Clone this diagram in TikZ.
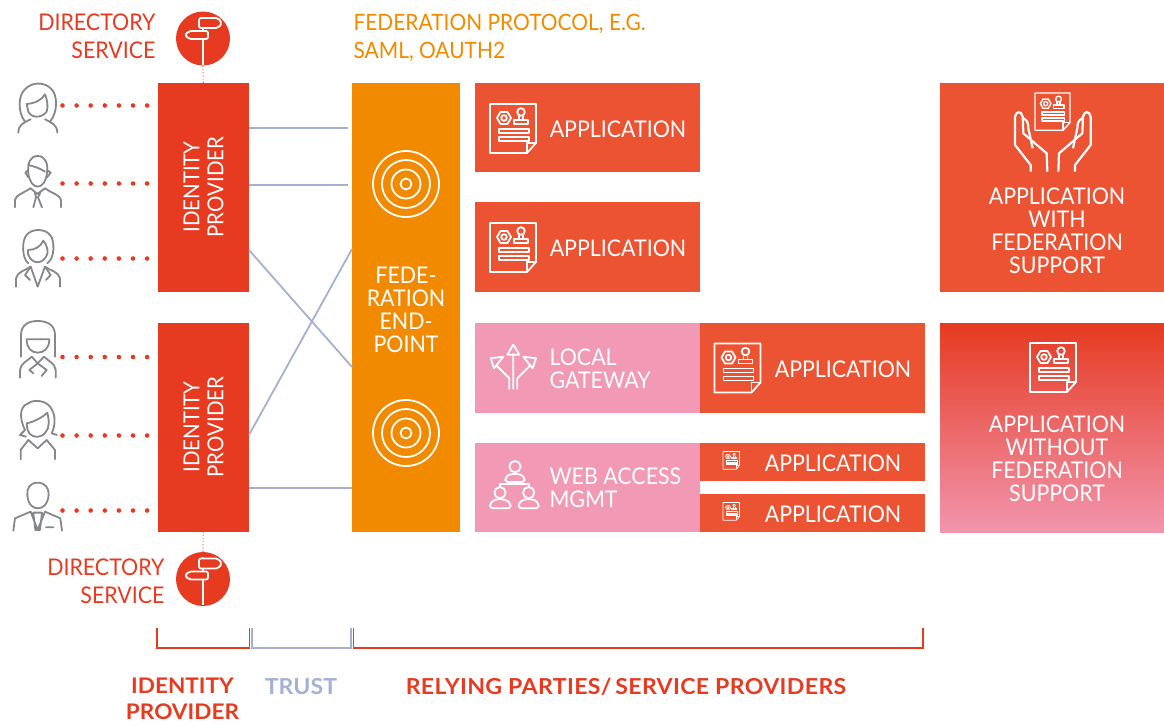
\documentclass[tikz,border=0pt]{standalone}
\usepackage{fontspec}
\setmainfont{Lato}[FakeStretch=0.93, BoldFeatures={FakeStretch=1.05}]
\definecolor{idpred}{HTML}{E63A21}
\definecolor{appred}{HTML}{EB5333}
\definecolor{fedorange}{HTML}{F28A00}
\definecolor{gwpink}{HTML}{F29AB5}
\definecolor{trustblue}{HTML}{A4B0D4}
\definecolor{usergray}{HTML}{85878A}
\newcommand{\lbl}{\fontsize{23}{23}\selectfont}
\tikzset{
  idpbox/.style = {fill=idpred, text=white, inner sep=0pt},
  appbox/.style = {fill=appred, text=white, inner sep=0pt},
  gwbox/.style = {fill=gwpink, text=white, inner sep=0pt},
  trust/.style = {trustblue, line width=1.8pt},
  userdots/.style = {idpred, line width=4.6pt, line cap=round, dash pattern=on 0pt off 14.1pt, shorten >=10pt},
  dirdots/.style = {idpred!70, line width=1.2pt, dotted},
  dirsvc/.style = {circle, fill=idpred, minimum size=54pt, inner sep=0pt},
  bracket/.style = {line width=1.5pt},
  wicon/.style = {white, line width=1.8pt, line join=round},
  uicon/.style = {usergray, line width=1.8pt, line cap=round, line join=round, x=0.3333pt, y=-0.3333pt},
  pics/appicon/.style = {code={
    \draw[wicon, line width=#1] (0,0) -- (46,0) -- (46,39) -- (37,49) -- (0,49) -- cycle;
    \draw[wicon, line width=#1] (46,39) -- (37,39) -- (37,49);
    \draw[wicon, line width=#1] (7,14) -- (10.5,8) -- (17.5,8) -- (21,14) -- (17.5,20) -- (10.5,20) -- cycle;
    \draw[wicon, line width=#1] (14,14) circle (2.8);
    \draw[wicon, line width=#1] (31,8) circle (3.8);
    \draw[wicon, line width=#1] (24,20) rectangle (38,16) (29,12) -- (29,16) (33,12) -- (33,16);
    \draw[wicon, line width=#1] (9,25) rectangle (39,29) (9,33) rectangle (39,37);
  }},
  pics/signpost/.style = {code={
    \draw[wicon] (0,-22) -- (0,26);
    \draw[wicon, fill=idpred, rounded corners=2pt] (-4,-20.5) -- (15,-20.5) -- (19,-15.5) -- (15,-10.5) -- (-4,-10.5) -- cycle;
    \draw[wicon, fill=idpred, rounded corners=2pt] (5,-7.5) -- (-14,-7.5) -- (-18,-3.5) -- (-14,0.5) -- (5,0.5) -- cycle;
  }},
  pics/target/.style = {code={
    \foreach \r in {33,24,14.5,5.5}
      \draw[wicon, line width=1.8pt] (0,0) circle (\r);
  }},
}
\begin{document}
\begin{tikzpicture}[x=1pt, y=-1pt]
  \useasboundingbox (0,0) rectangle (1164,724);

  % boxes
  \node[idpbox, minimum width=91pt, minimum height=209pt] (idp1) at (203.5,187.5) {};
  \node[idpbox, minimum width=91pt, minimum height=209pt] (idp2) at (203.5,427.5) {};
  \node[fill=fedorange, minimum width=108pt, minimum height=449pt] (fed) at (406,307.5) {};
  \node[appbox, minimum width=225pt, minimum height=89pt] (app1) at (587.5,127.5) {};
  \node[appbox, minimum width=225pt, minimum height=90pt] (app2) at (587.5,247) {};
  \node[gwbox, minimum width=225pt, minimum height=90pt] (gw) at (587.5,368) {};
  \node[appbox, minimum width=225pt, minimum height=90pt] (app3) at (812.5,368) {};
  \node[gwbox, minimum width=225pt, minimum height=89pt] (wam) at (587.5,487.5) {};
  \node[appbox, minimum width=225pt, minimum height=38pt] (app4) at (812.5,462) {};
  \node[appbox, minimum width=225pt, minimum height=38pt] (app5) at (812.5,513) {};
  \node[appbox, minimum width=224pt, minimum height=209pt] (fedapp) at (1052,187.5) {};
  \node[top color=idpred, bottom color=gwpink!95!idpred, minimum width=224pt, minimum height=209pt, inner sep=0pt] (nofedapp) at (1052,427.5) {};

  % box labels
  \node[text=white, rotate=90, align=center, font=\fontsize{22}{24}\selectfont] (idp1txt) at (203.5,187) {IDENTITY\\PROVIDER};
  \node[text=white, rotate=90, align=center, font=\fontsize{22}{24}\selectfont] (idp2txt) at (203.5,427) {IDENTITY\\PROVIDER};
  \node[text=white, align=center, font=\lbl] (fedtxt) at (406,310) {FEDE-\\RATION\\END-\\POINT};
  \node[text=white, font=\lbl] (app1txt) at (618,129) {APPLICATION};
  \node[text=white, font=\lbl] (app2txt) at (618,248) {APPLICATION};
  \node[text=white, font=\lbl] (app3txt) at (843,369) {APPLICATION};
  \node[text=white, font=\lbl] (app4txt) at (833,463) {APPLICATION};
  \node[text=white, font=\lbl] (app5txt) at (833,514) {APPLICATION};
  \node[text=white, align=left, anchor=west, font=\lbl] (gwtxt) at (546,369) {LOCAL\\GATEWAY};
  \node[text=white, align=left, anchor=west, font=\lbl] (wamtxt) at (546,488) {WEB ACCESS\\MGMT};
  \node[text=white, align=center, font=\lbl] (fedapptxt) at (1057,231) {APPLICATION\\WITH\\FEDERATION\\SUPPORT};
  \node[text=white, align=center, font=\lbl] (nofedapptxt) at (1057,459) {APPLICATION\\WITHOUT\\FEDERATION\\SUPPORT};
  \node[text=idpred, align=right, anchor=east, font=\fontsize{23}{28}\selectfont] (dir1txt) at (159,36) {DIRECTORY\\SERVICE};
  \node[text=idpred, align=right, anchor=east, font=\fontsize{23}{28}\selectfont] (dir2txt) at (168,581) {DIRECTORY\\SERVICE};
  \node[text=fedorange, align=left, anchor=west, font=\fontsize{22.5}{28}\selectfont] (prototxt) at (350,37.5) {FEDERATION PROTOCOL, E.G.\\SAML, OAUTH2};

  % trust lines
  \coordinate (a1) at (249,128);
  \coordinate (b1) at (348,128);
  \coordinate (a2) at (249,185);
  \coordinate (b2) at (348,185);
  \coordinate (a3) at (249,250);
  \coordinate (b3) at (352,367);
  \coordinate (a4) at (249,435);
  \coordinate (b4) at (352,249);
  \coordinate (a5) at (249,488);
  \coordinate (b5) at (352,488);
  \foreach \i in {1,...,5}
    \draw[trust] (a\i) -- (b\i);

  % directory services
  \node[dirsvc] (dir1) at (203,38.5) {};
  \node[dirsvc] (dir2) at (203,579) {};
  \pic at (dir1) {signpost};
  \pic at (dir2) {signpost};
  \draw[dirdots] (dir1) -- (idp1);
  \draw[dirdots] (dir2) -- (idp2);

  % users
  \coordinate (user1) at (62.5,105.5);
  \coordinate (user2) at (62.5,183.5);
  \coordinate (user3) at (62.5,258.5);
  \coordinate (user4) at (62.5,357);
  \coordinate (user5) at (62.5,435.5);
  \coordinate (user6) at (62.5,510.5);
  \foreach \i/\b in {1/idp1,2/idp1,3/idp1,4/idp2,5/idp2,6/idp2}
    \draw[userdots] (user\i) -- (user\i -| \b.west);

  \begin{scope}[uicon]
    \draw (75,365) .. controls (52,335) and (55,285) .. (75,268) .. controls (95,245) and (135,245) .. (155,268) .. controls (172,285) and (175,335) .. (150,365);
    \draw (80,312) .. controls (105,310) and (125,300) .. (135,283) .. controls (142,300) and (145,320) .. (140,335) .. controls (125,355) and (95,355) .. (85,335) -- cycle;
    \draw (55,398) .. controls (55,375) and (70,368) .. (92,358) (172,398) .. controls (172,375) and (155,368) .. (135,358);
    % second user
    \draw (113,468) .. controls (90,468) and (82,490) .. (85,520) .. controls (88,545) and (100,560) .. (113,560) .. controls (126,560) and (138,545) .. (141,520) .. controls (145,490) and (136,468) .. (113,468) -- cycle;
    \draw (85,495) .. controls (105,500) and (120,505) .. (135,515) (85,510) -- (76,518) -- (85,532) (141,510) -- (152,518) -- (141,532);
    \draw (45,622) -- (45,600) .. controls (48,585) and (65,582) .. (92,565) (183,622) -- (183,600) .. controls (180,585) and (160,582) .. (135,565);
    \draw (92,565) -- (112,582) -- (135,565) (105,580) -- (120,580) -- (114,592) -- (108,592) -- cycle (108,592) -- (100,622) (114,592) -- (126,622);
    % third user
    \draw (85,790) .. controls (65,775) and (65,720) .. (80,705) .. controls (95,685) and (135,685) .. (150,705) .. controls (165,720) and (165,775) .. (142,790);
    \draw (84,750) .. controls (105,750) and (122,740) .. (130,722) .. controls (140,735) and (145,750) .. (142,762) .. controls (130,795) and (95,795) .. (84,762) -- cycle;
    \draw (48,860) -- (48,835) .. controls (52,815) and (75,812) .. (92,800) (180,860) -- (180,835) .. controls (176,815) and (150,812) .. (135,800);
    \draw (92,800) -- (113,860) -- (135,800) (92,800) -- (75,825) -- (90,840) (135,800) -- (152,825) -- (138,840);
  \end{scope}
  \begin{scope}[uicon, yshift=-206.67pt]
    \draw (63,450) -- (63,385) .. controls (63,355) and (85,343) .. (113,343) .. controls (142,343) and (165,355) .. (165,385) -- (165,450);
    \draw (80,398) -- (148,398) .. controls (148,425) and (132,438) .. (113,438) .. controls (95,438) and (80,425) .. (80,398) -- cycle;
    \draw (60,513) -- (60,490) .. controls (62,470) and (80,465) .. (95,450) (167,513) -- (167,490) .. controls (165,470) and (147,465) .. (132,450);
    \draw (95,450) -- (113,470) -- (132,450) (113,470) -- (88,490) -- (100,500) (113,470) -- (140,490) -- (125,508);
    % fifth user
    \draw (75,670) .. controls (60,640) and (55,600) .. (85,590) .. controls (105,575) and (140,585) .. (150,600) .. controls (170,625) and (165,660) .. (155,680) -- (170,685) (75,670) -- (60,685) -- (78,690);
    \draw (80,650) .. controls (105,645) and (130,630) .. (142,618) .. controls (148,640) and (148,665) .. (138,675) .. controls (125,695) and (100,695) .. (88,680) .. controls (82,670) and (80,660) .. (80,650) -- cycle;
    \draw (62,758) -- (62,730) -- (85,700) -- (113,725) -- (140,700) -- (165,730) -- (165,758);
    % sixth user
    \draw (113,828) .. controls (90,828) and (80,845) .. (82,865) .. controls (84,895) and (100,905) .. (113,905) .. controls (128,905) and (143,895) .. (146,865) .. controls (148,845) and (135,828) .. (113,828) -- cycle;
    \draw (40,972) -- (45,935) -- (92,915) (186,972) -- (181,935) -- (135,915) (92,915) -- (113,970) -- (135,915) (100,918) -- (126,918) -- (120,970) -- (106,970) -- cycle (138,962) -- (160,962);
  \end{scope}

  % application icons
  \pic[scale=1] at (490,104) {appicon=1.8pt};
  \pic[scale=1] at (490,223) {appicon=1.8pt};
  \pic[scale=1] at (714.5,343.5) {appicon=1.8pt};
  \pic[scale=1] at (1030,343) {appicon=1.8pt};
  \pic[scale=0.36] at (723,451.5) {appicon=0.7pt};
  \pic[scale=0.36] at (723,502.5) {appicon=0.7pt};
  \pic[scale=0.76] at (1035,93) {appicon=1.4pt};

  % hands
  \begin{scope}[wicon, line width=2.2pt, x=0.3333pt, y=-0.3333pt, shift={(940pt,-80pt)}]
    \draw (272,275) -- (272,255) -- (225,195) -- (225,110) .. controls (228,92) and (245,92) .. (248,110) -- (250,160) -- (320,220) -- (322,275);
    \draw (250,115) .. controls (262,120) and (265,130) .. (265,145) -- (278,205);
    \draw (405,275) -- (405,255) -- (452,195) -- (452,110) .. controls (449,92) and (432,92) .. (429,110) -- (427,160) -- (357,220) -- (355,275);
    \draw (427,115) .. controls (415,120) and (412,130) .. (412,145) -- (399,205);
  \end{scope}

  % gateway icon
  \begin{scope}[wicon, x=0.3333pt, y=-0.3333pt, shift={(470pt,-320pt)}]
    \draw (130,208) -- (130,100) (112,104) -- (130,74) -- (148,104) -- cycle;
    \draw (118,208) -- (118,175) -- (78,135) (62,115) -- (100,110) -- (72,145) -- cycle;
    \draw (142,208) -- (142,175) -- (182,135) (198,115) -- (160,110) -- (188,145) -- cycle;
  \end{scope}

  % web access icon
  \begin{scope}[wicon, x=0.3333pt, y=-0.3333pt, shift={(470pt,-320pt)}]
    \draw (135,440) circle (17);
    \draw[rounded corners=3pt] (106,486) -- (106,472) -- (120,462) -- (150,462) -- (164,472) -- (164,486) -- cycle;
    \draw (135,486) -- (135,492) (90,500) -- (90,492) -- (176,492) -- (176,500);
    \draw (90,518) circle (17);
    \draw (176,518) circle (17);
    \draw[rounded corners=3pt] (60,565) -- (60,550) -- (75,538) -- (105,538) -- (122,550) -- (122,565) -- cycle;
    \draw[rounded corners=3pt] (146,565) -- (146,550) -- (160,538) -- (192,538) -- (206,550) -- (206,565) -- cycle;
  \end{scope}

  % targets
  \pic at (406,184) {target};
  \pic at (406,433) {target};

  % brackets
  \coordinate (br1a) at (157,628);
  \coordinate (br1b) at (249.3,628);
  \coordinate (br2a) at (252,628);
  \coordinate (br2b) at (351,628);
  \coordinate (br3a) at (353.5,628);
  \coordinate (br3b) at (923,628);
  \draw[bracket, trustblue] (br2a) -- ++(0,20) -| (br2b);
  \draw[bracket, idpred] (br1a) -- ++(0,20) -| (br1b);
  \draw[bracket, idpred] (br3a) -- ++(0,20) -| (br3b);
  \node[text=idpred, align=center, inner sep=0pt, font=\fontsize{21.5}{26}\selectfont\bfseries] (idplbl) at (182.5,698.5) {IDENTITY\\PROVIDER};
  \node[text=trustblue, font=\fontsize{22}{27}\selectfont\bfseries] (trustlbl) at (301,686.5) {TRUST};
  \node[text=idpred, font=\fontsize{22}{27}\selectfont\bfseries\addfontfeature{LetterSpace=1.6}] (rplbl) at (626,686.5) {RELYING PARTIES/\,SERVICE PROVIDERS};
\end{tikzpicture}
\end{document}
